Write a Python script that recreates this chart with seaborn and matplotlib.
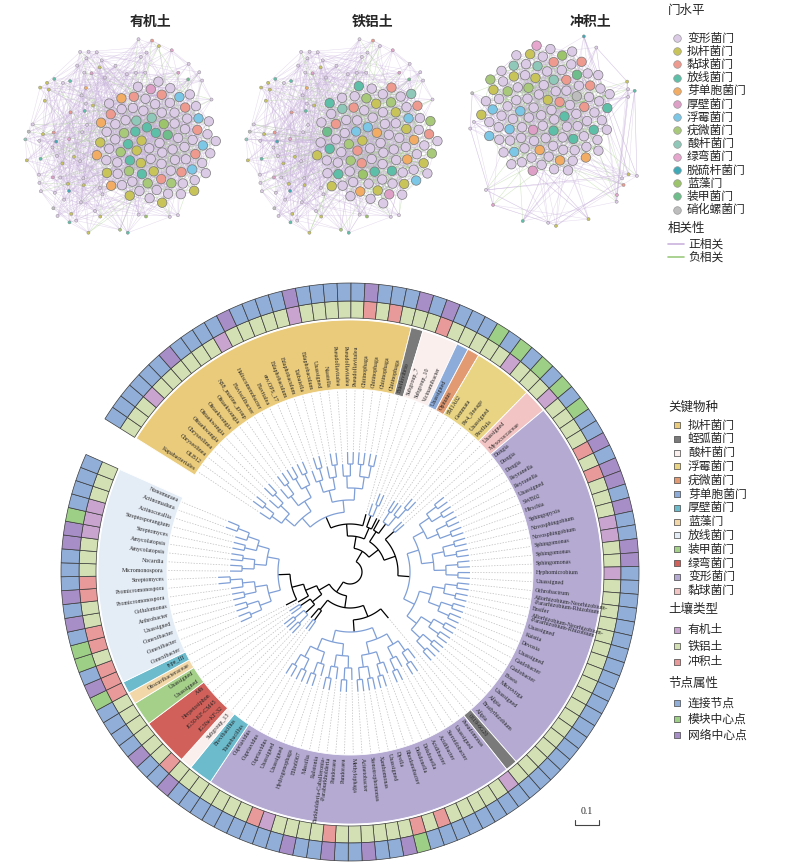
import numpy as np
import pandas as pd
import seaborn as sns
import matplotlib.pyplot as plt
from matplotlib.collections import LineCollection
from matplotlib.patches import Polygon

sns.set_style("white")
plt.rcParams['font.family'] = ['Noto Sans CJK SC', 'DejaVu Sans']

#%% Dados da árvore (ordem horária a partir do espaço vazio)
grupos = ['拟杆菌门', '蛭弧菌门', '酸杆菌门', '芽单胞菌门', '疣微菌门', '浮霉菌门', '黏球菌门',
          '变形菌门', '蛭弧菌门', '变形菌门', '厚壁菌门', '酸杆菌门', '绿弯菌门', '装甲菌门',
          '蓝藻门', '厚壁菌门', '放线菌门']
generos = [
    ['Kapabacteriales', 'OLB12', 'Chryseolinea', 'Chryseolinea', 'Ohtaekwangia', 'Ohtaekwangia',
     'Ohtaekwangia', 'Ohtaekwangia', 'NS8_marine_group', 'Flavisolibacter', 'Haliscomenobacter',
     'Flavitalea', 'env.OPS_17', 'Edaphobaculum', 'Edaphobaculum', 'Taibaiella', 'Edaphobaculum',
     'Unassigned', 'Niastella', 'Pseudoflavitalea', 'Pseudoflavitalea', 'Pseudoflavitalea',
     'Chitinophaga', 'Chitinophaga', 'Chitinophaga', 'Chitinophaga'],
    ['Bdellovibrio'],
    ['Subgroup_7', 'Subgroup_10', 'Vicinamibacter'],
    ['Unassigned'],
    ['Opitutus'],
    ['SM1A02', 'Gemmata', 'Pir4_lineage', 'Unassigned', 'Pirellula'],
    ['Unassigned', 'Myxococcaceae'],
    ['Dongia', 'Dongia', 'Dongia', 'Reyranella', 'Reyranella', 'Unassigned', 'SWB02', 'Hirschia',
     'Sphingopyxis', 'Novosphingobium', 'Novosphingobium', 'Sphingomonas', 'Sphingomonas',
     'Sphingomonas', 'Hyphomicrobium', 'Unassigned', 'Ochrobactrum',
     'Allorhizobium-Neorhizobium-\n-Pararhizobium-Rhizobium', 'Ensifer',
     'Allorhizobium-Neorhizobium-\n-Pararhizobium-Rhizobium', 'Unassigned', 'Kaistia', 'Devosia',
     'Unassigned', 'Caulobacter', 'Caulobacter', 'Bosea', 'Microvirga', 'Unassigned', 'Afipia',
     'Bradyrhizobium', 'Afipia'],
    ['0319-6G20'],
    ['Pseudomonas', 'Unassigned', 'Steroidobacter', 'Acidibacter', 'Acidibacter', 'Dokdonella',
     'Dokdonella', 'Rhodanobacter', 'Dyella', 'Unassigned', 'Xanthomonas', 'Stenotrophomonas',
     'Acinetobacter', 'Methylophaga', 'Pandoraea', 'Pandoraea',
     'Burkholderia-Caballeronia-\n-Paraburkholderia', 'Ralstonia', 'Massilia', 'Ellin6067',
     'Hydrogenophaga', 'Unassigned', 'Unassigned', 'Cupriavidus', 'Cupriavidus', 'Cupriavidus'],
    ['Tumebacillus', 'Brevibacillus'],
    ['Subgroup_13'],
    ['JG30a-KF-32', 'JG30-KF-CM45', 'Herpetosiphon', 'A4b'],
    ['Unassigned', 'Unassigned'],
    ['Obscuribacteraceae'],
    ['type_III'],
    ['Conexibacter', 'Conexibacter', 'Conexibacter', 'Unassigned', 'Arthrobacter', 'Cellulomonas',
     'Promicromonospora', 'Promicromonospora', 'Streptomyces', 'Micromonospora', 'Nocardia',
     'Amycolatopsis', 'Amycolatopsis', 'Streptomyces', 'Streptosporangium', 'Actinocorallia',
     'Actinomadura', 'Nonomuraea'],
]
# solo: o=有机土 f=铁铝土 r=冲积土 ; atributo: c=连接节点 m=模块中心点 h=网络中心点
solo = ['fffoffffffofffffofffffrfrf', 'f', 'frf', 'f', 'f', 'ffoff', 'fo',
        'ffffrfrfffooffofffffffffffffffff', 'f', 'offfffrfrffffffrfffforffff', 'ff', 'f',
        'rfff', 'ff', 'f', 'r', 'rrfrrffrrfffoooffff']
atributo = ['cccccchcccchcccchccccchccc', 'h', 'chc', 'c', 'c', 'mcmcm', 'cm',
            'cmcchchhchcchhcccccccccccccccccc', 'c', 'ccccccccmhcchcchcchccccccc', 'cc', 'h',
            'cchc', 'cc', 'c', 'm', 'hcmmchchccchhmccccc']

cores_grupo = {'拟杆菌门': '#EACB7C', '蛭弧菌门': '#7A7A7A', '酸杆菌门': '#FBEFEE',
               '浮霉菌门': '#E8D483', '疣微菌门': '#E29A72', '芽单胞菌门': '#8EACDA',
               '厚壁菌门': '#6BBBCD', '蓝藻门': '#F2D8A8', '放线菌门': '#E4ECF6',
               '装甲菌门': '#A5D08A', '绿弯菌门': '#D2605A', '变形菌门': '#B4AAD2',
               '黏球菌门': '#F3C4C4'}
cores_solo = {'o': '#C8A4CE', 'f': '#D2E0B4', 'r': '#E89A9A'}
cores_attr = {'c': '#90AED8', 'm': '#9ECF86', 'h': '#A88EC6'}
nomes_solo = {'o': '有机土', 'f': '铁铝土', 'r': '冲积土'}
nomes_attr = {'c': '连接节点', 'm': '模块中心点', 'h': '网络中心点'}

#%% Dados das redes: (nós grandes do cluster, nós pequenos periféricos)
filos = ['变形菌门', '拟杆菌门', '黏球菌门', '放线菌门', '芽单胞菌门', '厚壁菌门', '浮霉菌门',
         '疣微菌门', '酸杆菌门', '绿弯菌门', '脱硫杆菌门', '蓝藻门', '装甲菌门', '硝化螺菌门']
cores_filo = ['#DCCBE6', '#C8C45A', '#EE9A8E', '#5EBFA8', '#F2AC64', '#DFA0C8', '#7CC6E6',
              '#A9C97A', '#8FC7B8', '#E6A6CE', '#3FA9B8', '#9CC46A', '#6DBE8A', '#BDBDBD']
rede_cluster = {
    '有机土': [52, 9, 8, 6, 4, 1, 4, 5, 2, 0, 0, 1, 1, 0],
    '铁铝土': [50, 9, 7, 6, 4, 1, 4, 6, 2, 0, 0, 1, 1, 0],
    '冲积土': [70, 6, 6, 5, 3, 2, 5, 3, 3, 1, 0, 1, 1, 1],
}
rede_periferia = {
    '有机土': [45, 16, 3, 6, 1, 3, 0, 1, 1, 2, 2, 1, 1, 2],
    '铁铝土': [46, 15, 3, 6, 1, 3, 0, 1, 1, 2, 2, 1, 1, 2],
    '冲积土': [10, 4, 1, 2, 0, 1, 0, 0, 0, 1, 1, 0, 0, 1],
}

#%% Figura em coordenadas de pixel
fig = plt.figure(figsize=(8, 8.65), dpi=100)
ax = fig.add_axes([0, 0, 1, 1])
ax.set_xlim(0, 800)
ax.set_ylim(865, 0)
ax.axis('off')

GA = 2.399963
painel_centro = {'有机土': (122, 138), '铁铝土': (343, 138), '冲积土': (555, 130)}
for k, nome in enumerate(rede_cluster):
    cx, cy = painel_centro[nome]
    ax.text([150, 373, 590][k], 22, nome, fontsize=10, ha='center', va='center', fontweight='bold')
    denso = nome == '冲积土'
    ncl = sum(rede_cluster[nome])
    npe = sum(rede_periferia[nome])
    lab_cl = np.repeat(filos, rede_cluster[nome])
    lab_pe = np.repeat(filos, rede_periferia[nome])
    lab_cl = lab_cl[(np.arange(ncl) * 37) % ncl] if ncl % 37 else lab_cl
    lab_pe = lab_pe[(np.arange(npe) * 23) % npe] if npe % 23 else lab_pe
    if denso:
        ccx, ccy, rc, rn = cx - 8, cy - 20, 66, 98
    else:
        ccx, ccy, rc, rn = cx + 33, cy + 5, 62, 102
    i = np.arange(ncl)
    xc = ccx + rc * np.sqrt((i + 0.5) / ncl) * np.cos(i * GA)
    yc = ccy + rc * np.sqrt((i + 0.5) / ncl) * np.sin(i * GA)
    # periferia
    m = np.arange(600)
    rr = rn * np.sqrt((m + 0.5) / 600)
    px = cx + rr * np.cos(m * GA)
    py = cy + rr * np.sin(m * GA)
    fora = np.hypot(px - ccx, py - ccy) > rc + 7
    if denso:
        fora &= rr > rn * 0.82
    px, py = px[fora], py[fora]
    sel = np.linspace(0, len(px) - 1, npe).astype(int)
    px, py = px[sel], py[sel]
    # arestas
    segs, cores_seg = [], []
    for a in range(ncl):
        for s in (1, 3, 7, 11, 19, 29, 41):
            b = (a * s + 5 * s) % ncl
            if b != a:
                segs.append([(xc[a], yc[a]), (xc[b], yc[b])])
                cores_seg.append('#9CCB7E' if (a + b) % 3 == 0 else '#C9B3DC')
    for a in range(npe):
        for s in (1, 2, 5):
            b = (a * 13 + s * 17) % ncl
            segs.append([(px[a], py[a]), (xc[b], yc[b])])
            cores_seg.append('#9CCB7E' if (a + s) % 4 == 0 else '#C9B3DC')
            c2 = (a + s * 3) % npe
            segs.append([(px[a], py[a]), (px[c2], py[c2])])
            cores_seg.append('#C9B3DC')
    ax.add_collection(LineCollection(segs, colors=cores_seg, linewidths=0.35, alpha=0.5, zorder=1))
    pal = dict(zip(filos, cores_filo))
    dpe = pd.DataFrame({'x': px, 'y': py, 'filo': lab_pe})
    dcl = pd.DataFrame({'x': xc, 'y': yc, 'filo': lab_cl})
    sns.scatterplot(data=dpe, x='x', y='y', hue='filo', palette=pal, s=5, legend=False,
                    edgecolor='#888888', linewidth=0.3, ax=ax, zorder=2)
    sns.scatterplot(data=dcl, x='x', y='y', hue='filo', palette=pal, s=46, legend=False,
                    edgecolor='#7a7a7a', linewidth=0.5, ax=ax, zorder=3)
ax.set_xlabel('')
ax.set_ylabel('')

#%% Árvore circular
CX, CY = 350, 572
folhas = [g for lst in generos for g in lst]
N = len(folhas)
gap = 8.0
passo_ang = (360 - gap) / N
ang0 = 148.0
angs = ang0 - (np.arange(N) + 0.5) * passo_ang


def pt(r, a):
    t = np.deg2rad(a)
    return CX + r * np.cos(t), CY - r * np.sin(t)


def setor(r1, r2, a1, a2, cor, ec='none', lw=0.0, z=2):
    tt = np.linspace(a1, a2, max(3, int(abs(a2 - a1) * 2)))
    p = [pt(r2, t) for t in tt] + [pt(r1, t) for t in tt[::-1]]
    ax.add_patch(Polygon(p, closed=True, facecolor=cor, edgecolor=ec, linewidth=lw, zorder=z))


R_IN, R_BAND, R_S1, R_S2, R_S3 = 183, 252, 254, 271, 289
idx = 0
sol_all = ''.join(solo)
att_all = ''.join(atributo)
for g, lst in zip(grupos, generos):
    n = len(lst)
    a1 = ang0 - idx * passo_ang
    a2 = ang0 - (idx + n) * passo_ang
    setor(R_IN, R_BAND, a1, a2, cores_grupo[g], ec='white', lw=0.6)
    idx += n
for i in range(N):
    a1 = ang0 - i * passo_ang
    a2 = ang0 - (i + 1) * passo_ang
    setor(R_S1, R_S2, a1, a2, cores_solo[sol_all[i]], ec='#3a3a3a', lw=0.5, z=3)
    setor(R_S2, R_S3, a1, a2, cores_attr[att_all[i]], ec='#3a3a3a', lw=0.5, z=3)
    a = angs[i]
    x, y = pt(R_IN + 3, a)
    if np.cos(np.deg2rad(a)) >= 0:
        rot, ha = a, 'left'
    else:
        rot, ha = a - 180, 'right'
    ax.text(x, y, folhas[i], rotation=rot, ha=ha, va='center', rotation_mode='anchor',
            fontsize=4.3, family='Liberation Serif', zorder=4, linespacing=0.9)


# construção da árvore balanceada
def dividir(itens):
    if len(itens) == 1:
        return itens[0]
    h = len(itens) // 2
    return [dividir(itens[:h]), dividir(itens[h:])]


idx = 0
sub = []
for lst in generos:
    sub.append(('G', dividir(list(range(idx, idx + len(lst))))))
    idx += len(lst)
arvore = dividir(sub)
R0, DR = 12, 12
linhas_k, linhas_b = [], []


def desenha(no, nivel, cor_azul):
    r = R0 + nivel * DR
    if isinstance(no, tuple):
        return desenha(no[1], nivel, True)
    if isinstance(no, (int, np.integer)):
        return angs[no], r
    filhos = [desenha(f, nivel + 1, cor_azul) for f in no]
    alvo = linhas_b if cor_azul else linhas_k
    af = [f[0] for f in filhos]
    tt = np.linspace(min(af), max(af), 30)
    alvo.append([pt(r, t) for t in tt])
    for a, rf in filhos:
        alvo.append([pt(r, a), pt(rf, a)])
    return np.mean(af), r


desenha(arvore, 0, False)
ax.add_collection(LineCollection(linhas_k, colors='black', linewidths=0.9, zorder=3))
ax.add_collection(LineCollection(linhas_b, colors='#7F9FD6', linewidths=0.9, zorder=3))


def profundidade(no, nivel):
    if isinstance(no, tuple):
        return profundidade(no[1], nivel)
    if isinstance(no, (int, np.integer)):
        return {no: nivel}
    d = {}
    for f in no:
        d.update(profundidade(f, nivel + 1))
    return d


prof = profundidade(arvore, 0)
tracos = [[pt(R0 + prof[i] * DR + 2, angs[i]), pt(R_IN - 1, angs[i])] for i in range(N)]
ax.add_collection(LineCollection(tracos, colors='#bdbdbd', linewidths=0.5, linestyles=(0, (2, 2)),
                                 zorder=1))

# barra de escala
ax.plot([575, 575, 599, 599], [820, 825, 825, 820], color='#444444', lw=0.8)
ax.text(587, 812, '0.1', fontsize=7, ha='center', va='center', family='Liberation Serif')

#%% Legendas
def titulo(y, t):
    ax.text(668, y, t, fontsize=9, va='center')


titulo(10, '门水平')
for k, (f, c) in enumerate(zip(filos, cores_filo)):
    y = 38 + k * 13.2
    ax.scatter([677], [y], s=30, color=c, edgecolor='#999999', linewidth=0.5)
    ax.text(687, y, f, fontsize=8.5, va='center')
titulo(228, '相关性')
for y, t, c in [(244, '正相关', '#C9B3DC'), (257, '负相关', '#9CCB7E')]:
    ax.plot([668, 684], [y, y], color=c, lw=1.2)
    ax.text(688, y, t, fontsize=8.5, va='center')

titulo(407, '关键物种')
chaves = ['拟杆菌门', '蛭弧菌门', '酸杆菌门', '浮霉菌门', '疣微菌门', '芽单胞菌门', '厚壁菌门',
          '蓝藻门', '放线菌门', '装甲菌门', '绿弯菌门', '变形菌门', '黏球菌门']


def quad(y, c, t):
    ax.scatter([677], [y], s=24, marker='s', color=c, edgecolor='#444444', linewidth=0.5)
    ax.text(688, y, t, fontsize=8.5, va='center')


for k, g in enumerate(chaves):
    quad(425 + k * 13.8, cores_grupo[g], g)
titulo(609, '土壤类型')
for k, s in enumerate('ofr'):
    quad(630 + k * 16, cores_solo[s], nomes_solo[s])
titulo(683, '节点属性')
for k, s in enumerate('cmh'):
    quad(703 + k * 16, cores_attr[s], nomes_attr[s])

fig.savefig('out.png', dpi=100)
